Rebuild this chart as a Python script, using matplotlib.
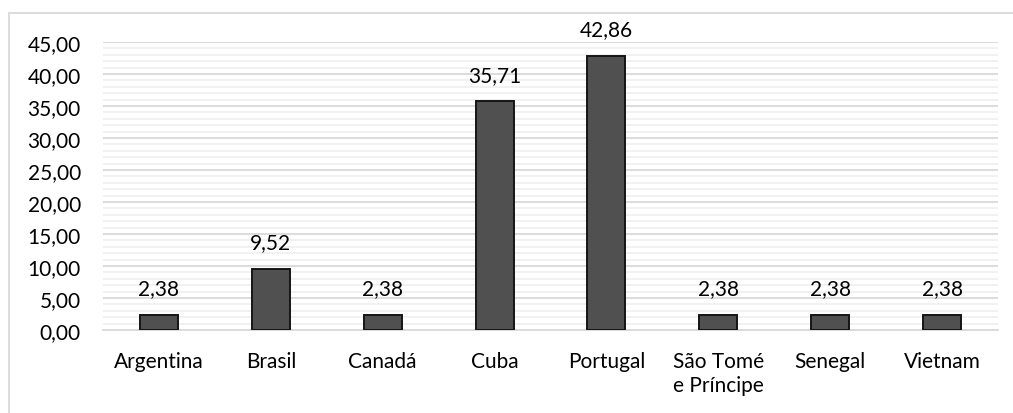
import matplotlib
matplotlib.use("Agg")
import matplotlib.pyplot as plt
from matplotlib.patches import Rectangle
from matplotlib.ticker import MultipleLocator, FuncFormatter

categories = ["Argentina", "Brasil", "Canadá", "Cuba", "Portugal",
              "São Tomé\ne Príncipe", "Senegal", "Vietnam"]
values = [2.38, 9.52, 2.38, 35.71, 42.86, 2.38, 2.38, 2.38]

plt.rcParams["font.family"] = ["Lato", "DejaVu Sans"]
FS = 15

W, H = 1013, 414
fig = plt.figure(figsize=(W / 100, H / 100), dpi=100)

# light frame around the chart (runs off the right and bottom edges)
fig.patches.append(Rectangle((8.5 / W, -10 / H), 1020 / W, (H - 13.5 + 10) / H,
                             transform=fig.transFigure, fill=False,
                             edgecolor="#d9d9d9", linewidth=1.3))

ax = fig.add_axes([103 / W, 1 - 331 / H, 895 / W, 288 / H])

def comma(v, pos=None):
    return f"{v:.2f}".replace(".", ",")

x = range(len(categories))
ax.bar(x, values, width=0.34, color="#505050", edgecolor="#151515",
       linewidth=1.4, zorder=3)
for xi, v in zip(x, values):
    ax.annotate(comma(v), (xi, v), xytext=(0, 12), textcoords="offset points",
                ha="center", va="bottom", fontsize=FS, color="#000000")

ax.set_xlim(-0.5, len(categories) - 0.5)
ax.set_ylim(0, 45)
ax.yaxis.set_major_locator(MultipleLocator(5))
ax.yaxis.set_minor_locator(MultipleLocator(1))
ax.yaxis.set_major_formatter(FuncFormatter(comma))
ax.grid(axis="y", which="major", color="#d9d9d9", linewidth=1.3, zorder=0)
ax.grid(axis="y", which="minor", color="#f0f0f0", linewidth=1.3, zorder=0)
ax.set_axisbelow(True)

ax.set_xticks(list(x))
ax.set_xticklabels(categories, fontsize=FS, linespacing=1.25, va="top")
ax.tick_params(axis="x", length=0, pad=15)
ax.tick_params(axis="y", which="both", length=0, pad=16, labelsize=FS)

for side in ("top", "right", "left"):
    ax.spines[side].set_visible(False)
ax.spines["bottom"].set_color("#d9d9d9")
ax.spines["bottom"].set_linewidth(1.3)

fig.savefig("out.png", dpi=100)
